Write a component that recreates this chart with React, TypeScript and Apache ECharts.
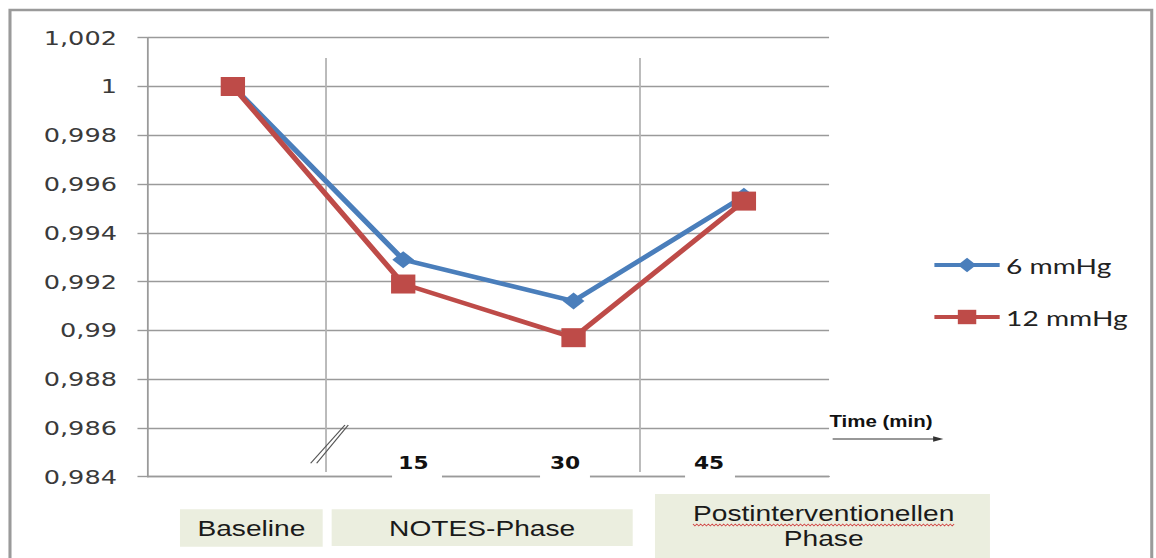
import React, { useEffect, useRef } from "react";
import * as echarts from "echarts";

// ---- data ----
const categories = ["Baseline", "15", "30", "45"];
const seriesNames = ["6 mmHg", "12 mmHg"];
const values6 = [1.0, 0.9929, 0.9912, 0.9955];
const values12 = [1.0, 0.9919, 0.9897, 0.9953];
const timeLabels = ["15", "30", "45"];
const phaseLabels = ["Baseline", "NOTES-Phase", "Postinterventionellen\nPhase"];
const axisTitle = "Time (min)";
const yMin = 0.984;
const yMax = 1.002;
const yStep = 0.002;

const SX = 1.28;
const W = Math.round(1156 / SX);
const H = 558;

function wavy(x0: number, x1: number, y: number) {
  const pts: number[][] = [];
  let up = true;
  for (let x = x0; x <= x1; x += 1.5) {
    pts.push([x, y + (up ? -0.9 : 0.9)]);
    up = !up;
  }
  return pts;
}

export default function App() {
  const ref = useRef<HTMLDivElement>(null);
  useEffect(() => {
    if (!ref.current) return;
    const chart = echarts.init(ref.current, null, { renderer: "svg", width: W, height: H });
    const boxFill = "#EBEEDF";
    const gridLeft = 115.4;
    const gridRight = W - 647.7;
    const timePos = [323, 441.5, 554];
    const gapBoxes = [306.3, 421.9, 535.2];
    const graphic: any[] = [
      {
        type: "rect",
        shape: { x: 7.8, y: 10, width: 892, height: 620 },
        style: { fill: "none", stroke: "#9a9a9a", lineWidth: 2.4 },
        z: 0,
        silent: true,
      },
      {
        type: "line",
        shape: { x1: 254.7, y1: 58, x2: 254.7, y2: 472 },
        style: { stroke: "#b4b4b4", lineWidth: 1.4 },
        z: 1,
      },
      {
        type: "line",
        shape: { x1: 500, y1: 58, x2: 500, y2: 472 },
        style: { stroke: "#b4b4b4", lineWidth: 1.4 },
        z: 1,
      },
      {
        type: "line",
        shape: { x1: 242.7, y1: 463.3, x2: 269.5, y2: 425 },
        style: { stroke: "#555", lineWidth: 1 },
        z: 12,
      },
      {
        type: "line",
        shape: { x1: 247.4, y1: 463.3, x2: 272.1, y2: 425 },
        style: { stroke: "#555", lineWidth: 1 },
        z: 12,
      },
    ];
    gapBoxes.forEach((gx) => {
      graphic.push({
        type: "rect",
        shape: { x: gx, y: 446, width: 39, height: 38 },
        style: { fill: "#ffffff" },
        z: 10,
      });
    });
    timeLabels.forEach((t, i) => {
      graphic.push({
        type: "text",
        x: timePos[i],
        y: 463,
        style: {
          text: t,
          fontFamily: "DejaVu Sans",
          fontWeight: "bold",
          fontSize: 17,
          fill: "#111",
          align: "center",
          verticalAlign: "middle",
        },
        z: 11,
      });
    });
    graphic.push(
      {
        type: "text",
        x: 648,
        y: 421,
        style: {
          text: axisTitle,
          fontFamily: "Liberation Sans",
          fontWeight: "bold",
          fontSize: 16,
          fill: "#111",
          align: "left",
          verticalAlign: "middle",
        },
        z: 11,
      },
      {
        type: "line",
        shape: { x1: 650.5, y1: 439, x2: 732, y2: 439 },
        style: { stroke: "#333", lineWidth: 1.2 },
        z: 11,
      },
      {
        type: "polygon",
        shape: { points: [[737, 439], [729, 436.3], [729, 441.7]] },
        style: { fill: "#333" },
        z: 11,
      }
    );
    const boxes = [
      { x: 140.6, y: 509.3, w: 111.5, h: 37.4 },
      { x: 259.1, y: 509.3, w: 235.2, h: 36.7 },
      { x: 511.7, y: 494, w: 261.7, h: 70 },
    ];
    boxes.forEach((b) => {
      graphic.push({
        type: "rect",
        shape: { x: b.x, y: b.y, width: b.w, height: b.h },
        style: { fill: boxFill },
        z: 5,
      });
    });
    graphic.push(
      {
        type: "text",
        x: 196.4,
        y: 528,
        style: {
          text: phaseLabels[0],
          fontFamily: "Liberation Sans",
          fontSize: 22,
          fill: "#1a1a1a",
          align: "center",
          verticalAlign: "middle",
        },
        z: 6,
      },
      {
        type: "text",
        x: 376.7,
        y: 528,
        style: {
          text: phaseLabels[1],
          fontFamily: "Liberation Sans",
          fontSize: 22,
          fill: "#1a1a1a",
          align: "center",
          verticalAlign: "middle",
        },
        z: 6,
      },
      {
        type: "text",
        x: 643.5,
        y: 526,
        style: {
          text: phaseLabels[2],
          fontFamily: "Liberation Sans",
          fontSize: 22,
          lineHeight: 25,
          fill: "#1a1a1a",
          align: "center",
          verticalAlign: "middle",
        },
        z: 6,
      },
      {
        type: "polyline",
        shape: { points: wavy(541.4, 746, 525) },
        style: { stroke: "#d04040", lineWidth: 0.8, fill: "none" },
        z: 7,
      }
    );

    chart.setOption({
      animation: false,
      backgroundColor: "#ffffff",
      grid: { left: gridLeft, right: gridRight, top: 37.7, bottom: 81.3, containLabel: false },
      legend: {
        orient: "vertical",
        left: 728,
        top: 254,
        padding: 0,
        itemWidth: 51,
        itemHeight: 18,
        itemGap: 30,
        data: seriesNames,
        lineStyle: { width: 4 },
        textStyle: { fontFamily: "Lato", fontSize: 22, color: "#222", lineHeight: 18 },
      },
      xAxis: {
        type: "category",
        data: categories,
        boundaryGap: true,
        axisLabel: { show: false },
        axisTick: { show: false },
        axisLine: { show: true, lineStyle: { color: "#9a9a9a", width: 1.4 } },
        splitLine: { show: false },
      },
      yAxis: {
        type: "value",
        min: yMin,
        max: yMax,
        interval: yStep,
        axisLine: { show: true, lineStyle: { color: "#9a9a9a", width: 1.4 } },
        axisTick: { show: true, length: 8, lineStyle: { color: "#9a9a9a", width: 1.4 } },
        splitLine: { show: true, lineStyle: { color: "#9a9a9a", width: 1.4 } },
        axisLabel: {
          margin: 24,
          fontFamily: "DejaVu Sans",
          fontSize: 20,
          color: "#3a3a3a",
          formatter: (v: number) => String(parseFloat(v.toFixed(3))).replace(".", ","),
        },
      },
      series: [
        {
          name: seriesNames[0],
          type: "line",
          data: values6,
          symbol: "diamond",
          symbolSize: 17,
          lineStyle: { color: "#4A7EBB", width: 4.5 },
          itemStyle: { color: "#4A7EBB" },
          z: 3,
        },
        {
          name: seriesNames[1],
          type: "line",
          data: values12,
          symbol: "rect",
          symbolSize: 19,
          lineStyle: { color: "#BE4B48", width: 4.5 },
          itemStyle: { color: "#BE4B48" },
          z: 4,
        },
      ],
      graphic,
    });
    return () => chart.dispose();
  }, []);
  return (
    <div
      ref={ref}
      style={{
        position: "absolute",
        left: 0,
        top: 0,
        width: W,
        height: H,
        transform: `scaleX(${SX})`,
        transformOrigin: "0 0",
      }}
    />
  );
}
